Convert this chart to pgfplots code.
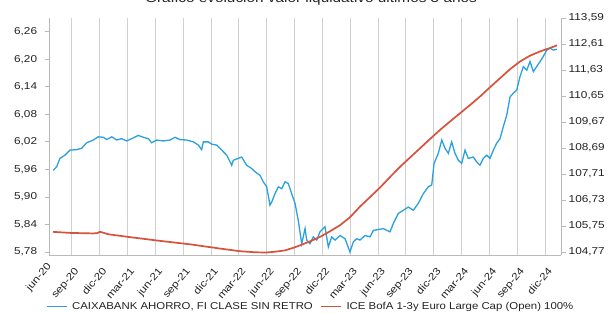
\documentclass[border=0pt]{standalone}
\usepackage{pgfplots}
\pgfplotsset{compat=1.18}
\usepackage{fontspec}
\setmainfont{Liberation Sans}[FakeStretch=1.18]
\newfontfamily\legfont{Liberation Sans}[FakeStretch=1.14]
\definecolor{fundblue}{RGB}{41,161,222}
\definecolor{idxred}{RGB}{214,82,58}
\definecolor{gridgray}{RGB}{208,208,208}
\definecolor{axgray}{RGB}{185,185,185}
\definecolor{txt}{RGB}{35,35,35}

\pgfplotstableread{
m v
1.01 5.958
1.38 5.966
1.73 5.984
2.27 5.991
2.81 6.002
3.53 6.003
4.07 6.006
4.61 6.018
5.32 6.024
5.86 6.031
6.40 6.030
6.77 6.025
7.31 6.031
7.84 6.024
8.38 6.027
8.92 6.022
9.46 6.027
10.17 6.034
10.71 6.030
11.25 6.027
11.61 6.018
12.16 6.024
12.87 6.022
13.59 6.024
14.13 6.030
14.67 6.025
15.39 6.024
16.10 6.020
16.64 6.013
17.00 6.003
17.18 6.020
17.72 6.020
18.08 6.015
18.62 6.013
18.98 6.006
19.70 5.991
20.24 5.969
20.41 5.980
20.95 5.984
21.31 5.987
21.85 5.969
22.39 5.962
22.75 5.955
23.29 5.947
23.64 5.933
24.01 5.922
24.36 5.882
24.55 5.889
24.90 5.907
25.26 5.922
25.63 5.918
25.98 5.933
26.34 5.929
26.70 5.907
27.06 5.886
27.41 5.849
27.78 5.798
28.14 5.831
28.32 5.806
28.67 5.798
29.03 5.813
29.40 5.806
29.75 5.824
30.29 5.835
30.65 5.791
31.01 5.813
31.37 5.806
31.91 5.816
32.45 5.809
32.98 5.780
33.34 5.802
33.71 5.809
34.06 5.806
34.60 5.816
35.14 5.813
35.50 5.827
36.03 5.829
36.57 5.831
37.30 5.824
37.65 5.842
38.19 5.864
38.73 5.871
39.27 5.878
39.81 5.871
40.34 5.886
40.88 5.907
41.42 5.922
41.79 5.926
42.04 5.973
42.50 5.995
42.87 6.024
43.22 6.006
43.58 5.995
43.94 6.020
44.30 5.995
44.65 5.980
45.02 5.973
45.38 6.002
45.73 5.984
46.27 5.987
46.64 5.976
46.99 5.969
47.35 5.984
47.72 5.991
48.07 5.984
48.43 6.002
48.79 6.017
49.15 6.027
49.50 6.053
49.87 6.078
50.23 6.118
50.58 6.126
50.95 6.133
51.30 6.162
51.66 6.184
52.03 6.176
52.38 6.195
52.74 6.173
53.10 6.184
53.46 6.195
53.81 6.206
54.18 6.220
54.54 6.224
54.90 6.220
55.26 6.222
}\fundtable

\pgfplotstableread{
m v
0.98 105.53
2.81 105.49
5.29 105.47
5.72 105.48
6.04 105.53
6.37 105.50
6.91 105.44
9.28 105.33
12.51 105.19
15.74 105.06
18.97 104.90
21.13 104.80
22.75 104.76
23.93 104.75
24.90 104.78
25.98 104.83
27.06 104.95
27.59 105.02
28.67 105.17
29.75 105.34
30.83 105.55
31.91 105.78
32.98 106.08
34.06 106.48
35.14 106.84
36.22 107.20
37.28 107.59
38.37 107.98
39.45 108.33
40.53 108.68
41.61 109.03
42.68 109.37
43.76 109.69
44.84 110.00
45.92 110.31
46.99 110.63
48.07 110.98
49.15 111.32
50.23 111.66
51.30 111.95
52.38 112.17
53.46 112.33
54.54 112.46
55.29 112.56
}\indextable

\tikzset{xlab/.style={rotate=50, anchor=north east, font=\fontsize{10}{12}\selectfont, text=txt, inner sep=0pt, yshift=-6pt, xshift=-4pt}}

\begin{document}
\begin{tikzpicture}[x=1pt,y=1pt]
\useasboundingbox (0,0) rectangle (610,313);
\pgfplotsset{
  base/.style={
    at={(49pt,58pt)}, anchor=south west, scale only axis,
    width=512pt, height=237pt,
    xmin=0.55, xmax=55.72,
    axis line style={axgray, line width=0.8pt},
    ticklabel style={font=\fontsize{10}{12}\selectfont, text=txt},
    /pgf/number format/assume math mode=true,
    tick align=outside, major tick length=4.5pt,
    clip mode=individual,
  },
}
\begin{axis}[base,
  axis x line*=bottom, axis y line*=left,
  ymin=5.7735, ymax=6.2899,
  ytick={5.78,5.84,5.90,5.96,6.02,6.08,6.14,6.20,6.26},
  yticklabels={{5,78},{5,84},{5,90},{5,96},{6,02},{6,08},{6,14},{6,20},{6,26}},
  xtick={3,6,...,54},
  xticklabels={sep-20,dic-20,mar-21,jun-21,sep-21,dic-21,mar-22,jun-22,sep-22,dic-22,mar-23,jun-23,sep-23,dic-23,mar-24,jun-24,sep-24,dic-24},
  x tick label style={xlab},
  y tick label style={inner sep=1pt, xshift=-6.2pt},
  ytick style={axgray, line width=0.8pt},
  xtick style={draw=none},
  xmajorgrids, grid style={gridgray, line width=0.8pt},
]
\addplot[fundblue, line width=1.3pt] table[x=m, y=v] {\fundtable};
\node[xlab] at (axis cs:0,5.7735) {jun-20};
\end{axis}
\begin{axis}[base,
  axis x line=none, axis y line*=right,
  ymin=104.657, ymax=113.59,
  ytick={104.77,105.75,106.73,107.71,108.69,109.67,110.65,111.63,112.61,113.59},
  yticklabels={{104,77},{105,75},{106,73},{107,71},{108,69},{109,67},{110,65},{111,63},{112,61},{113,59}},
  y tick label style={inner sep=1pt, xshift=2pt},
  ytick style={axgray, line width=0.8pt},
  legend style={at={(0.511,-0.2173)}, anchor=center, draw=none, fill=none,
    legend columns=2, font=\legfont\fontsize{10}{12}\selectfont, text=txt,
    /tikz/every even column/.append style={column sep=5pt},
    legend cell align=left},
  legend image code/.code={\draw[#1] (0pt,0pt) -- (20pt,0pt); \path (23pt,0pt);},
]
\addlegendimage{fundblue, line width=1.3pt}
\addlegendentry{CAIXABANK AHORRO, FI CLASE SIN RETRO}
\addplot[idxred, line width=1.7pt] table[x=m, y=v] {\indextable};
\addlegendentry{ICE BofA 1-3y Euro Large Cap (Open) 100\%}
\end{axis}
\node[anchor=base, font=\fontsize{13}{15}\selectfont, text=txt] at (311,310) {Gráfico evolución valor liquidativo últimos 5 años};
\end{tikzpicture}
\end{document}
